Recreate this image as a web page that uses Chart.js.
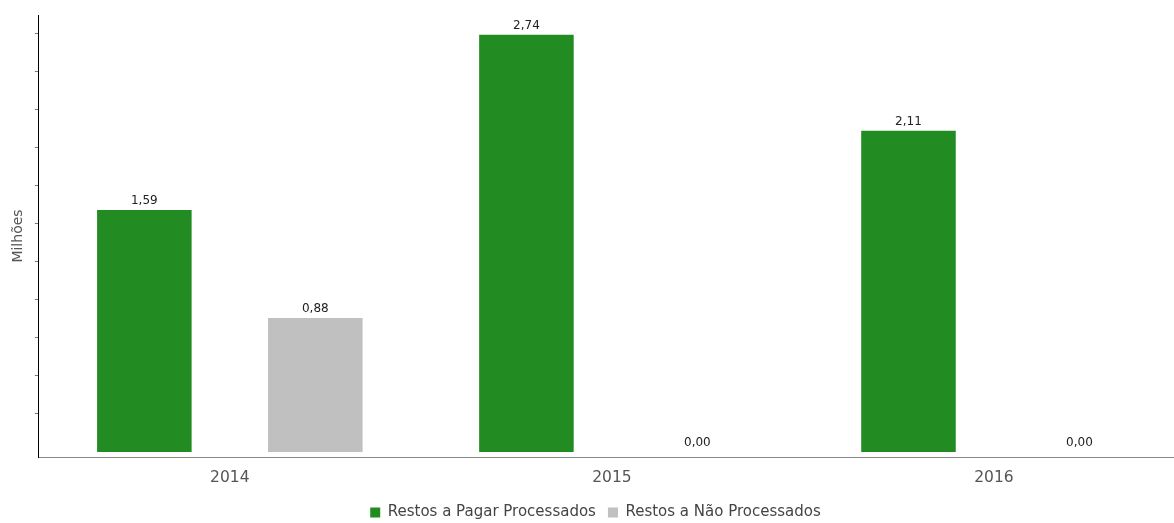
<!DOCTYPE html>
<html>
<head>
<meta charset="utf-8">
<script src="https://cdn.jsdelivr.net/npm/chart.js@4/dist/chart.umd.min.js"></script>
<style>
body { margin: 0; overflow: hidden; background: #fff; }
</style>
</head>
<body>
<canvas id="restosChart" width="1188" height="523"></canvas>
<script>
// values in millions
var anos = ["2014", "2015", "2016"];
var processados = [1.59, 2.74, 2.11];
var naoProcessados = [0.88, 0.00, 0.00];
var nomeProcessados = "Restos a Pagar Processados";
var nomeNaoProcessados = "Restos a Não Processados";
var tituloY = "Milhões";

function formatValor(v)
{
    return v.toFixed(2).replace(".", ",");
}

// draws the value above each bar
var valorLabels = {
    id: "valorLabels",
    afterDatasetsDraw: function(chart)
    {
        var ctx = chart.ctx;
        ctx.save();
        ctx.font = "12px 'DejaVu Sans'";
        ctx.fillStyle = "#222";
        ctx.textAlign = "center";
        ctx.textBaseline = "alphabetic";
        chart.data.datasets.forEach(function(ds, i)
        {
            var meta = chart.getDatasetMeta(i);
            meta.data.forEach(function(bar, j)
            {
                ctx.fillText(formatValor(ds.data[j]), bar.x, bar.y - 6);
            });
        });
        ctx.restore();
    }
};

var ctxChart = document.getElementById("restosChart").getContext("2d");
var restosChart = new Chart(ctxChart, {
    type: "bar",
    data: {
        labels: anos,
        datasets: [{
            label: nomeProcessados,
            data: processados,
            backgroundColor: "#228B22",
            borderWidth: 0,
            categoryPercentage: 0.895,
            barPercentage: 0.553
        }, {
            label: nomeNaoProcessados,
            data: naoProcessados,
            backgroundColor: "#C0C0C0",
            borderWidth: 0,
            categoryPercentage: 0.895,
            barPercentage: 0.553
        }]
    },
    options: {
        responsive: false,
        animation: false,
        layout: {
            padding: { left: 6, right: 3, top: 15, bottom: -7 }
        },
        plugins: {
            tooltip: { enabled: false },
            legend: {
                position: "bottom",
                labels: {
                    boxWidth: 10,
                    boxHeight: 10,
                    padding: 12,
                    color: "#444",
                    font: { family: "'DejaVu Sans'", size: 15 }
                }
            }
        },
        scales: {
            x: {
                grid: { display: false, drawTicks: false, tickLength: 0 },
                border: { display: true, color: "#888", width: 1 },
                ticks: {
                    color: "#555",
                    padding: 11,
                    font: { family: "'DejaVu Sans'", size: 15.5, lineHeight: 1.244 }
                },
                afterFit: function(scale)
                {
                    scale.height = 36;
                }
            },
            y: {
                min: -0.033,
                max: 2.87,
                ticks: { display: false, stepSize: 0.25 },
                afterBuildTicks: function(scale)
                {
                    scale.ticks = scale.ticks.filter(function(t)
                    {
                        return t.value >= 0 && Math.abs(t.value / 0.25 - Math.round(t.value / 0.25)) < 1e-6;
                    });
                },
                grid: {
                    display: true,
                    drawOnChartArea: false,
                    drawTicks: true,
                    tickLength: 4,
                    color: "#777"
                },
                border: { display: true, color: "#000", width: 1 },
                title: {
                    display: true,
                    text: tituloY,
                    color: "#555",
                    padding: { top: 4, bottom: 8 },
                    font: { family: "'DejaVu Sans'", size: 14 }
                }
            }
        }
    },
    plugins: [valorLabels]
});
</script>
</body>
</html>
